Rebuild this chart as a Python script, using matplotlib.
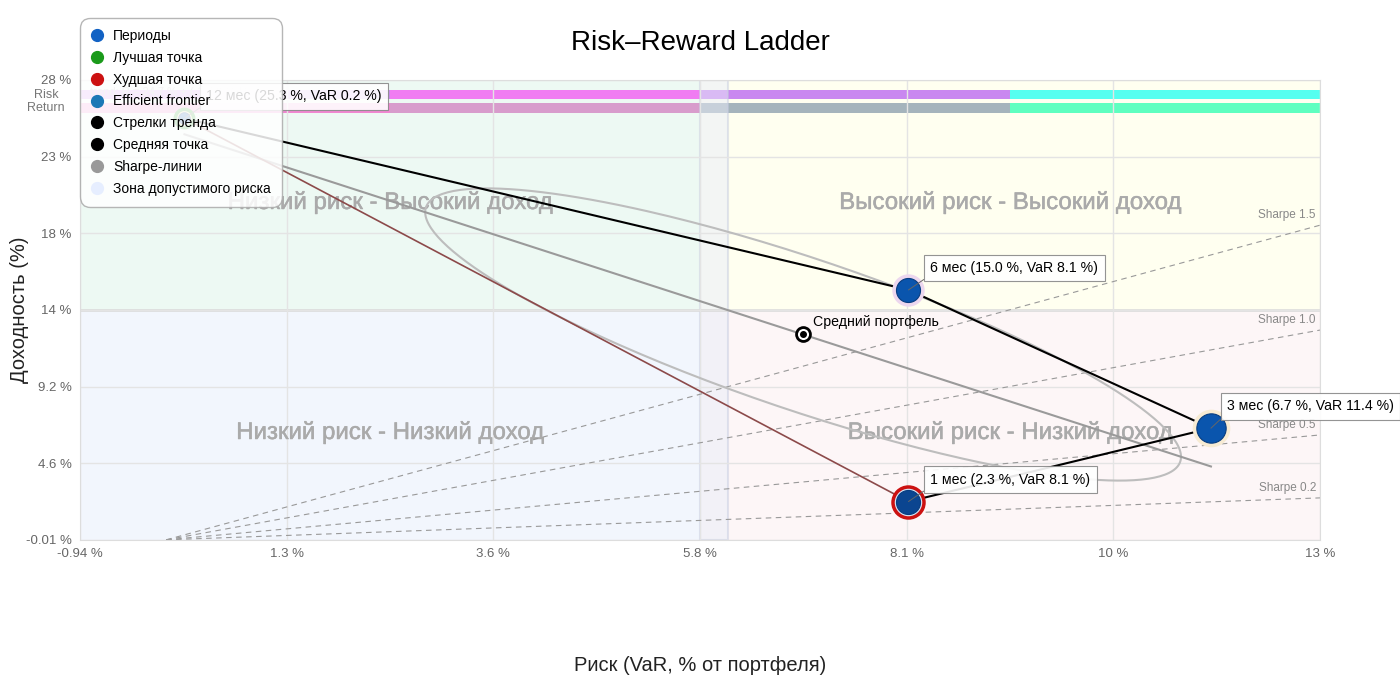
import numpy as np
import matplotlib.pyplot as plt
import matplotlib.patheffects as pe
from matplotlib.lines import Line2D
from matplotlib.patches import Rectangle
from matplotlib.ticker import FuncFormatter

plt.rcParams['font.family'] = ['Liberation Sans', 'DejaVu Sans']

# периоды и их риск/доходность
periods = ['1 мес', '3 мес', '6 мес', '12 мес']
returns = [2.3, 6.7, 15.0, 25.3]
risk_var = [8.1, 11.4, 8.1, 0.2]
halo_colors = ['#d6e4f5', '#f7ebd3', '#ecd7ee', '#f0e7a8']
marker_colors = ['#0b4590', '#0a55ad', '#0a55ad', '#0a55ad']

sharpe_levels = [0.2, 0.5, 1.0, 1.5]
risk_limit = 6.13

x_range = (-0.94, 12.59)
y_range = (-0.01, 27.6)

risk_strip = ['#cc88f0', '#f07cf2', '#c987f0', '#55fff0']
return_strip = ['#f087d0', '#d89ccc', '#a5b4bc', '#5fffc0']

quad_labels = ['Низкий риск - Высокий доход', 'Высокий риск - Высокий доход',
               'Низкий риск - Низкий доход', 'Высокий риск - Низкий доход']
quad_colors = ['#edf9f3', '#fffff0', '#f2f6fd', '#fdf6f7']

legend_items = [
    ('Периоды', '#1262c4'),
    ('Лучшая точка', '#1a9a1a'),
    ('Худшая точка', '#cc1111'),
    ('Efficient frontier', '#1a78b6'),
    ('Стрелки тренда', '#000000'),
    ('Средняя точка', '#000000'),
    ('Sharpe-линии', '#999999'),
    ('Зона допустимого риска', '#e6eeff'),
]

fig = plt.figure(figsize=(14, 7), dpi=100)
ax = fig.add_axes([80 / 1400, 160 / 700, 1240 / 1400, 460 / 700])
ax.set_xlim(*x_range)
ax.set_ylim(*y_range)

x0, x1 = x_range
y0, y1 = y_range
xmid = (x0 + x1) / 2
ymid = (y0 + y1) / 2

# квадранты
quads = [(x0, ymid, xmid - x0, y1 - ymid), (xmid, ymid, x1 - xmid, y1 - ymid),
         (x0, y0, xmid - x0, ymid - y0), (xmid, y0, x1 - xmid, ymid - y0)]
for (qx, qy, qw, qh), col, lab in zip(quads, quad_colors, quad_labels):
    ax.add_patch(Rectangle((qx, qy), qw, qh, facecolor=col, edgecolor='none', zorder=0.5))
    ax.text(qx + qw / 2, qy + qh / 2 - 0.45, lab, ha='center', va='center', fontsize=17.3,
            color='#aaaaaa', zorder=1.6,
            path_effects=[pe.withStroke(linewidth=0.35, foreground='#aaaaaa')])

# полосы Risk / Return
seg = (x1 - x0) / 4
for i in range(4):
    ax.add_patch(Rectangle((x0 + i * seg, 0.9587), seg, 0.0196, transform=ax.get_xaxis_transform(),
                           facecolor=risk_strip[i], edgecolor='none', zorder=1.0))
    ax.add_patch(Rectangle((x0 + i * seg, 0.928), seg, 0.022, transform=ax.get_xaxis_transform(),
                           facecolor=return_strip[i], edgecolor='none', zorder=1.0))
ax.text(-0.0274, 0.968, 'Risk', transform=ax.transAxes, ha='center', va='center', fontsize=9, color='#777777')
ax.text(-0.0274, 0.939, 'Return', transform=ax.transAxes, ha='center', va='center', fontsize=9, color='#777777')

# зона допустимого риска
ax.axvspan(xmid, risk_limit, facecolor='#e9edf8', alpha=0.5, edgecolor='#c6cce0', lw=1.5, zorder=1.1)
ax.axhline(ymid, color='#d9d9d9', lw=1.8, zorder=1.2)

# линии Шарпа
xs = np.array([0.0, x1])
for s in sharpe_levels:
    ax.plot(xs, s * xs, ls=(0, (5, 4)), color='#999999', lw=0.8, zorder=2)
    ax.annotate(f'Sharpe {s:.1f}', xy=(x1, s * x1), xytext=(-4, 4), textcoords='offset pixels',
                ha='right', va='bottom', fontsize=8.5, color='#888888', zorder=2)

rv = np.array(risk_var)
rr = np.array(returns)

# эллипс ковариации
mean = np.array([rv.mean(), rr.mean()])
cov = np.cov(rv, rr, bias=True)
L = np.linalg.cholesky(cov)
t = np.linspace(0, 2 * np.pi, 300)
ell = mean[:, None] + L @ np.vstack([np.cos(t), np.sin(t)])
ax.plot(ell[0], ell[1], color='#bdbdbd', lw=1.5, zorder=2.5)

# линия тренда (регрессия)
k, b = np.polyfit(rv, rr, 1)
tx = np.array([rv.min(), rv.max()])
ax.plot(tx, k * tx + b, color='#9a9a9a', lw=1.5, zorder=2.6)
ax.text(0.008, 0.985, f'trend: R = {b:.1f} % + ({k:.2f})·VaR', transform=ax.transAxes,
        fontsize=8, color='#bbbbbb', va='top', zorder=2)

# лучшая -> худшая
best = int(np.argmax(rr))
worst = int(np.argmin(rr))
ax.plot([rv[best], rv[worst]], [rr[best], rr[worst]], color='#8c4a4a', lw=1.2, zorder=2.7)

# стрелки тренда
ax.plot(rv, rr, color='black', lw=1.5, zorder=3)

# точки периодов (размер по риску)
for i, p in enumerate(periods):
    ms = 8 + 1.15 * rv[i]
    ax.plot(rv[i], rr[i], 'o', ms=ms + 6, mfc=halo_colors[i], mec='none', zorder=4)
    if i == best:
        ax.plot(rv[i], rr[i], 'o', ms=ms + 5, mfc='none', mec='#22a022', mew=2.5, zorder=5)
    if i == worst:
        ax.plot(rv[i], rr[i], 'o', ms=ms + 5, mfc='none', mec='#cc1111', mew=2.5, zorder=5)
    ax.plot(rv[i], rr[i], 'o', ms=ms, mfc=marker_colors[i], mec='#083d80', mew=0.8, zorder=6)
    dx = 16 if rv[i] == rv.max() else 22
    ax.annotate(f'{p} ({rr[i]:.1f} %, VaR {rv[i]:.1f} %)', xy=(rv[i], rr[i]), xytext=(dx, 15),
                textcoords='offset pixels', ha='left', va='bottom', fontsize=10.2, zorder=8,
                annotation_clip=False,
                bbox=dict(boxstyle='square,pad=0.45', fc='white', ec='#888888', lw=0.8, alpha=0.9),
                arrowprops=dict(arrowstyle='-', color='#666666', lw=0.7, shrinkA=0, shrinkB=0, relpos=(0, 0)))

# средняя точка
ax.plot(mean[0], mean[1], 'o', ms=10, mfc='white', mec='black', mew=2, zorder=7)
ax.plot(mean[0], mean[1], 'o', ms=4, color='black', zorder=7)
ax.annotate('Средний портфель', xy=(mean[0], mean[1]), xytext=(10, 5), textcoords='offset pixels',
            ha='left', va='bottom', fontsize=10.2, zorder=7)

# оси
fmt = FuncFormatter(lambda v, _: f'{v:.2g} %')
ax.set_xticks(np.linspace(x0, x1, 7))
ax.set_yticks(np.linspace(y0, y1, 7))
ax.xaxis.set_major_formatter(fmt)
ax.yaxis.set_major_formatter(fmt)
ax.tick_params(length=0, labelsize=9.5, labelcolor='#666666')
ax.tick_params(axis='x', pad=6)
ax.tick_params(axis='y', pad=6)
ax.grid(True, color='#e4e4e4', lw=1, zorder=1.5)
for sp in ax.spines.values():
    sp.set_color('#dddddd')

ax.set_xlabel('Риск (VaR, % от портфеля)', fontsize=14.5, color='#222222')
ax.set_ylabel('Доходность (%)', fontsize=14.5, color='#222222')
ax.xaxis.set_label_coords(0.5, -0.252)
ax.yaxis.set_label_coords(-0.041, 0.5)

fig.text(0.5, 1 - 43 / 700, 'Risk–Reward Ladder', ha='center', va='center', fontsize=20)

handles = [Line2D([0], [0], marker='o', ls='none', mfc=c, mec=c, ms=8.5, label=l) for l, c in legend_items]
leg = ax.legend(handles=handles, loc='upper left', bbox_to_anchor=(80 / 1400, 682 / 700),
                bbox_transform=fig.transFigure, borderaxespad=0, fontsize=10, fancybox=True,
                framealpha=0.85, edgecolor='#aaaaaa', labelspacing=0.56, handlelength=0.8,
                handletextpad=0.8, borderpad=0.8)
leg.get_frame().set_boxstyle('round', pad=0, rounding_size=0.75)
leg.get_frame().set_linewidth(1.0)
leg.set_zorder(20)

fig.savefig('out.png', dpi=100)
